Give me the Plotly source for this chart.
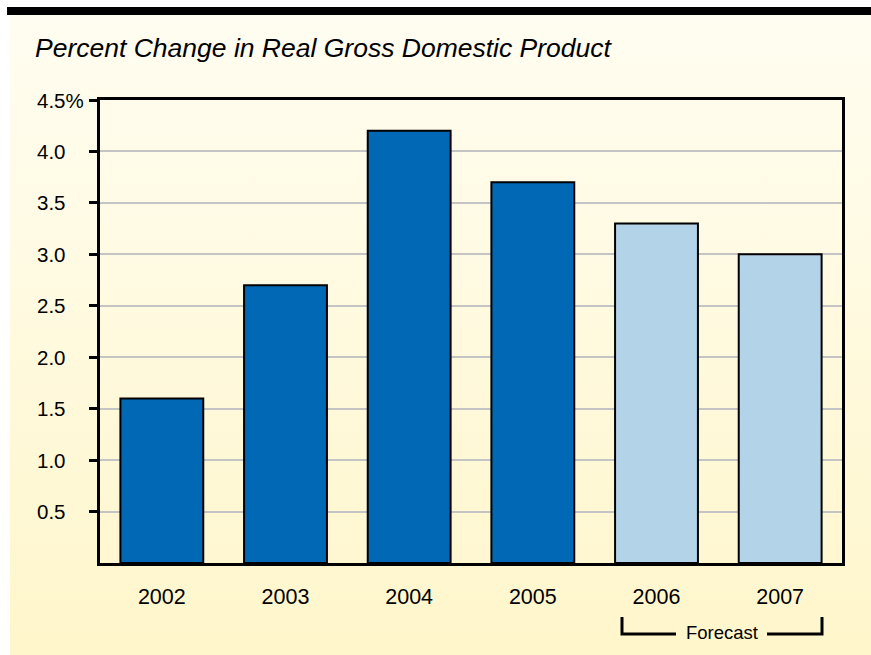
import base64
import plotly.graph_objects as go

# ---- data ----
years = ["2002", "2003", "2004", "2005", "2006", "2007"]
gdp_change = [1.6, 2.7, 4.2, 3.7, 3.3, 3.0]
is_forecast = [False, False, False, False, True, True]
y_ticks = [0.5, 1.0, 1.5, 2.0, 2.5, 3.0, 3.5, 4.0, 4.5]
y_tick_labels = ["0.5", "1.0", "1.5", "2.0", "2.5", "3.0", "3.5", "4.0", "4.5%"]
title_text = "Percent Change in Real Gross Domestic Product"
forecast_label = "Forecast"

# ---- geometry (pixels) ----
W, H = 871, 655
L, R, T, B = 100, 29, 100, 92
pw, ph = W - L - R, H - T - B

def px_x(x):
    return (x - L) / pw

def px_y(y):
    return (H - B - y) / ph

FONT = "Liberation Sans, Arial, Helvetica, sans-serif"
dark_blue = "#0068B4"
light_blue = "#B3D3E8"
colors = [light_blue if f else dark_blue for f in is_forecast]

fig = go.Figure()
fig.add_trace(go.Bar(
    x=years, y=gdp_change,
    marker=dict(color=colors, line=dict(color="black", width=2)),
    hoverinfo="x+y",
))

# gradient background image
svg = ('<svg xmlns="http://www.w3.org/2000/svg" width="100" height="100" preserveAspectRatio="none">'
       '<defs><linearGradient id="g" x1="0" y1="0" x2="0" y2="1">'
       '<stop offset="0" stop-color="#FFFDF1"/><stop offset="1" stop-color="#FFF6CB"/>'
       '</linearGradient></defs><rect width="100" height="100" fill="url(#g)"/></svg>')
src = "data:image/svg+xml;base64," + base64.b64encode(svg.encode()).decode()

shapes = [
    # top black band
    dict(type="rect", xref="paper", yref="paper", x0=px_x(7), x1=px_x(W + 5),
         y0=px_y(15), y1=px_y(7), fillcolor="black", line=dict(width=0)),
    # forecast bracket left
    dict(type="path", xref="paper", yref="paper",
         path=f"M {px_x(622)} {px_y(617)} L {px_x(622)} {px_y(634)} L {px_x(676)} {px_y(634)}",
         line=dict(color="black", width=3)),
    # forecast bracket right
    dict(type="path", xref="paper", yref="paper",
         path=f"M {px_x(767)} {px_y(634)} L {px_x(822)} {px_y(634)} L {px_x(822)} {px_y(617)}",
         line=dict(color="black", width=3)),
]

annotations = [
    dict(text="<i>" + title_text + "</i>", xref="paper", yref="paper", x=px_x(33), y=px_y(48),
         xanchor="left", yanchor="middle", showarrow=False,
         font=dict(family=FONT, size=26.5, color="black")),
    dict(text=forecast_label, xref="paper", yref="paper", x=px_x(721.5), y=px_y(632),
         xanchor="center", yanchor="middle", showarrow=False,
         font=dict(family=FONT, size=18.5, color="black")),
]
for v, lab in zip(y_ticks, y_tick_labels):
    annotations.append(dict(text=lab, xref="paper", yref="y", x=px_x(35), y=v,
                            xanchor="left", yanchor="middle", showarrow=False,
                            font=dict(family=FONT, size=20.5, color="black")))

fig.update_layout(
    width=W, height=H,
    margin=dict(l=L, r=R, t=T, b=B, pad=0),
    paper_bgcolor="white",
    plot_bgcolor="rgba(0,0,0,0)",
    bargap=0.33,
    showlegend=False,
    shapes=shapes,
    annotations=annotations,
    images=[dict(source=src, xref="paper", yref="paper",
                 x=px_x(10), y=px_y(15), sizex=(W - 10) / pw, sizey=(H - 15) / ph,
                 xanchor="left", yanchor="top", sizing="stretch", layer="below")],
    xaxis=dict(
        type="category", showgrid=False, zeroline=False,
        showline=True, linecolor="black", linewidth=2.5, mirror=True,
        ticks="outside", ticklen=12, tickcolor="rgba(0,0,0,0)",
        tickfont=dict(family=FONT, size=21.5, color="black"),
    ),
    yaxis=dict(
        range=[0, 4.5], tickvals=y_ticks, showticklabels=False,
        showgrid=True, gridcolor="#C4C4C4", gridwidth=2,
        zeroline=False, showline=True, linecolor="black", linewidth=2.5, mirror=True,
        ticks="outside", ticklen=8, tickwidth=2.5, tickcolor="black",
    ),
)

fig.write_html("out.html", config={"displayModeBar": False},
               post_script="document.body.style.margin='0px';")
